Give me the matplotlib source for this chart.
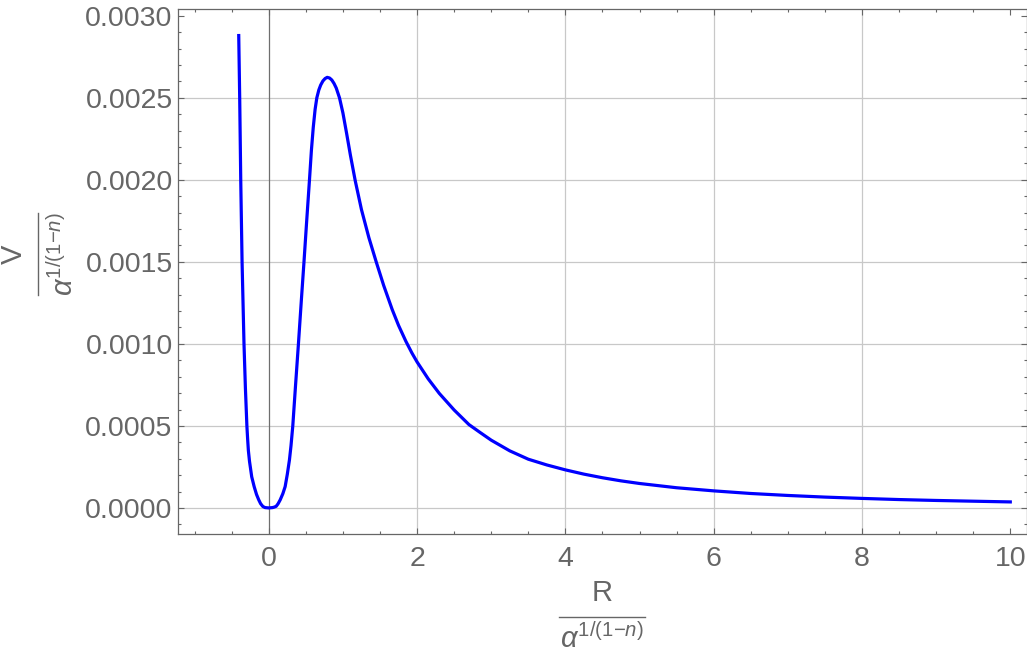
import matplotlib
matplotlib.use("Agg")
import matplotlib.pyplot as plt
from matplotlib.lines import Line2D
from matplotlib.ticker import FixedLocator, MultipleLocator, FormatStrFormatter

plt.rcParams['font.family'] = ['Liberation Sans', 'DejaVu Sans']
plt.rcParams['mathtext.fontset'] = 'custom'
plt.rcParams['mathtext.rm'] = 'Liberation Sans'
plt.rcParams['mathtext.it'] = 'Liberation Sans:italic'
plt.rcParams['mathtext.sf'] = 'Liberation Sans'

# values
r_vals = [-0.405, -0.392, -0.378, -0.36, -0.334, -0.315, -0.295, -0.285, -0.275, -0.26,
          -0.23, -0.197, -0.165, -0.135, -0.11, -0.08, -0.05, 0.0, 0.05, 0.075,
          0.10, 0.125, 0.154, 0.19, 0.221, 0.25, 0.279, 0.30, 0.324, 0.36,
          0.40, 0.44, 0.475, 0.51, 0.549, 0.575, 0.60, 0.625, 0.648, 0.675,
          0.70, 0.73, 0.76, 0.788, 0.82, 0.85, 0.88, 0.91, 0.954, 1.0,
          1.05, 1.1, 1.166, 1.25, 1.35, 1.449, 1.55, 1.665, 1.75, 1.85,
          1.93, 2.0, 2.15, 2.3, 2.5, 2.7, 2.85, 3.0, 3.25, 3.5,
          3.75, 4.0, 4.25, 4.5, 4.75, 5.0, 5.5, 6.0, 6.5, 7.0,
          7.5, 8.0, 8.5, 9.0, 9.5, 10.0]
v_vals = [0.00288, 0.0025, 0.0020, 0.0015, 0.0010, 0.00073, 0.0005, 0.00042, 0.00035, 0.000285,
          0.00019, 0.00013, 0.000082, 0.000049, 0.000026, 0.000009, 0.000002, 0.0, 0.000002, 0.000005,
          0.00001, 0.000025, 0.000049, 0.000087, 0.00013, 0.000205, 0.000293, 0.00038, 0.0005, 0.00074,
          0.0010, 0.00127, 0.0015, 0.00174, 0.0020, 0.00218, 0.00232, 0.00243, 0.0025, 0.002548,
          0.002578, 0.002603, 0.002618, 0.002625, 0.002621, 0.002609, 0.002588, 0.00256, 0.0025, 0.002408,
          0.002283, 0.002153, 0.001995, 0.001819, 0.001648, 0.0015, 0.001356, 0.001209, 0.001113, 0.001015,
          0.000945, 0.00089, 0.000787, 0.000698, 0.000597, 0.000508, 0.00046, 0.000413, 0.000348, 0.000297,
          0.000262, 0.000232, 0.000206, 0.000184, 0.000165, 0.000149, 0.000123, 0.000104, 0.000088, 0.000076,
          0.000066, 0.000058, 0.000051, 0.0000455, 0.000041, 0.0000366]

x_ticks = [0, 2, 4, 6, 8, 10]
y_ticks = [0.0, 0.0005, 0.0010, 0.0015, 0.0020, 0.0025, 0.0030]

gray = '#666666'
W, H = 1027, 654
fig = plt.figure(figsize=(W / 100, H / 100), dpi=100)
ax = fig.add_axes([178.3 / W, 120 / H, 848.3 / W, 524.7 / H])

ax.set_xlim(-1.22, 10.22)
ax.set_ylim(-0.000159, 0.00304)

# grid (Mathematica style: not on the last major tick)
for gx in x_ticks[1:-1]:
    ax.axvline(gx, color='#c8c8c8', lw=0.9, zorder=0)
for gy in y_ticks[:-1]:
    ax.axhline(gy, color='#c8c8c8', lw=0.9, zorder=0)
ax.axvline(0, color='#6e6e6e', lw=0.9, zorder=1)

ax.plot(r_vals, v_vals, color='#0000ff', lw=2.3, zorder=3, solid_joinstyle='round')

ax.xaxis.set_major_locator(FixedLocator(x_ticks))
ax.xaxis.set_minor_locator(MultipleLocator(0.5))
ax.yaxis.set_major_locator(FixedLocator(y_ticks))
ax.yaxis.set_minor_locator(MultipleLocator(0.0001))
ax.yaxis.set_major_formatter(FormatStrFormatter('%.4f'))

ax.tick_params(which='both', direction='in', top=True, right=True, color=gray,
               labelcolor=gray, width=0.8, labelsize=20.5)
ax.tick_params(which='major', length=4.5)
ax.tick_params(which='minor', length=2.5)
ax.tick_params(axis='x', pad=9)
ax.tick_params(axis='y', pad=4)

for sp in ax.spines.values():
    sp.set_color(gray)
    sp.set_linewidth(0.9)


# stacked fraction labels, placed in figure pixels (from top-left)
def fx(px):
    return px / W


def fy(py):
    return 1 - py / H


denom = r'$\alpha^{1/(1{-}n)}$'

# x label
fig.text(fx(602), fy(593), 'R', color=gray, fontsize=21, ha='center', va='center')
fig.add_artist(Line2D([fx(559), fx(645)], [fy(617), fy(617)], color=gray, lw=1.0))
fig.text(fx(602), fy(639), denom, color=gray, fontsize=21, ha='center', va='center')

# y label
fig.text(fx(14), fy(254), 'V', color=gray, fontsize=21, ha='center', va='center', rotation=90)
fig.add_artist(Line2D([fx(38), fx(38)], [fy(213), fy(295)], color=gray, lw=1.0))
fig.text(fx(64), fy(254), denom, color=gray, fontsize=21, ha='center', va='center', rotation=90)

fig.savefig('out.png', dpi=100)
